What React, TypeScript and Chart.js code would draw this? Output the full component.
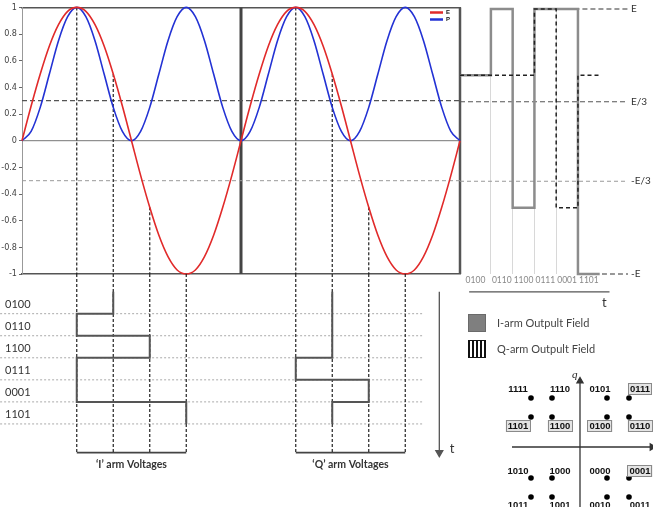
import React, { useEffect, useRef } from "react";
import { Chart, registerables } from "chart.js";
Chart.register(...registerables);

const W = 653;
const H = 507;

// ---------- data: field curves vs. phase (degrees) ----------
const phaseDeg = [0, 15, 30, 45, 60, 75, 90, 105, 120, 135, 150, 165, 180, 195, 210, 225, 240, 255, 270, 285, 300, 315, 330, 345, 360, 375, 390, 405, 420, 435, 450, 465, 480, 495, 510, 525, 540, 555, 570, 585, 600, 615, 630, 645, 660, 675, 690, 705, 720];
const fieldE = [0, 0.26, 0.5, 0.71, 0.87, 0.97, 1, 0.97, 0.87, 0.71, 0.5, 0.26, 0, -0.26, -0.5, -0.71, -0.87, -0.97, -1, -0.97, -0.87, -0.71, -0.5, -0.26, 0, 0.26, 0.5, 0.71, 0.87, 0.97, 1, 0.97, 0.87, 0.71, 0.5, 0.26, 0, -0.26, -0.5, -0.71, -0.87, -0.97, -1, -0.97, -0.87, -0.71, -0.5, -0.26, 0];
const fieldP = [0, 0.07, 0.25, 0.5, 0.75, 0.93, 1, 0.93, 0.75, 0.5, 0.25, 0.07, 0, 0.07, 0.25, 0.5, 0.75, 0.93, 1, 0.93, 0.75, 0.5, 0.25, 0.07, 0, 0.07, 0.25, 0.5, 0.75, 0.93, 1, 0.93, 0.75, 0.5, 0.25, 0.07, 0, 0.07, 0.25, 0.5, 0.75, 0.93, 1, 0.93, 0.75, 0.5, 0.25, 0.07, 0];
const thirdLevels = [0.3, -0.3];

// ---------- data: symbol sequence ----------
const symbols = ["0100", "0110", "1100", "0111", "0001", "1101"];
const iArmPhase = [150, 90, 210, 90, 90, 270];
const qArmPhase = [510, 510, 510, 450, 570, 510];
const iArmField = [0.5, 1, -0.5, 1, 1, -1];
const qArmField = [0.5, 0.5, 0.5, 1, -0.5, 0.5];
const iVoltMarks = [90, 150, 210, 270];
const qVoltMarks = [450, 510, 570, 630];
const markField = [1, 0.5, -0.5, -1];
const levelValues = [1, 0.3, -0.3, -1];
const levelLabels = ["E", "E/3", "-E/3", "-E"];

// ---------- data: constellation ----------
const constI = [-4.9, -2.8, 2.7, 4.9];
const constQ = [4.9, 3.0, -3.1, -5.0];
const constCodes = [
  ["1111", "1110", "0101", "0111"],
  ["1101", "1100", "0100", "0110"],
  ["1010", "1000", "0000", "0001"],
  ["1011", "1001", "0010", "0011"],
];

// ---------- styling constants ----------
const RED = "#e12a2a";
const BLUE = "#2332d4";
const NARROW = "'Liberation Sans Narrow','DejaVu Sans Condensed',sans-serif";
const SANS = "Lato, 'Open Sans', sans-serif";
const ARIAL = "'Liberation Sans', Arial, sans-serif";

function seg(data: any[], color: string, width: number, extra: any = {}) {
  return {
    data,
    borderColor: color,
    backgroundColor: color,
    borderWidth: width,
    pointRadius: 0,
    pointHoverRadius: 0,
    fill: false,
    tension: 0,
    clip: false,
    ...extra,
  };
}

type Deco = {
  x: number;
  y: number;
  px?: boolean;
  xAxis?: string;
  yAxis?: string;
  dx?: number;
  dy?: number;
  text?: string;
  font?: string;
  color?: string;
  align?: CanvasTextAlign;
  box?: boolean;
  rect?: { w: number; h: number; fill: any; stroke: string };
  hline?: { len: number; color: string; width: number };
};

function decor(items: Deco[]) {
  return {
    id: "decor",
    afterDraw(chart: any) {
      const ctx = chart.ctx as CanvasRenderingContext2D;
      for (const it of items) {
        const xs = chart.scales[it.xAxis || "x"];
        const ys = chart.scales[it.yAxis || "y"];
        const x = (it.px ? it.x : xs.getPixelForValue(it.x)) + (it.dx || 0);
        const y = (it.px ? it.y : ys.getPixelForValue(it.y)) + (it.dy || 0);
        ctx.save();
        if (it.rect) {
          ctx.fillStyle = it.rect.fill;
          ctx.fillRect(x, y, it.rect.w, it.rect.h);
          ctx.strokeStyle = it.rect.stroke;
          ctx.lineWidth = 1;
          ctx.strokeRect(x + 0.5, y + 0.5, it.rect.w - 1, it.rect.h - 1);
        }
        if (it.hline) {
          ctx.strokeStyle = it.hline.color;
          ctx.lineWidth = it.hline.width;
          ctx.beginPath();
          ctx.moveTo(x, y);
          ctx.lineTo(x + it.hline.len, y);
          ctx.stroke();
        }
        if (it.text) {
          ctx.font = it.font || `10px ${SANS}`;
          ctx.textAlign = it.align || "left";
          ctx.textBaseline = "middle";
          if (it.box) {
            const w = ctx.measureText(it.text).width;
            const left = it.align === "center" ? x - w / 2 : x;
            ctx.fillStyle = "#e4e4e4";
            ctx.fillRect(left - 2, y - 6, w + 4, 12);
            ctx.strokeStyle = "#8a8a8a";
            ctx.lineWidth = 1;
            ctx.strokeRect(Math.round(left - 2) + 0.5, Math.round(y - 6) + 0.5, Math.round(w + 3), 11);
          }
          ctx.fillStyle = it.color || "#222";
          ctx.fillText(it.text, x, y);
        }
        ctx.restore();
      }
    },
  };
}

function baseOptions(padding: any, scales: any) {
  return {
    responsive: false,
    maintainAspectRatio: false,
    animation: false,
    devicePixelRatio: 1,
    events: [],
    layout: { padding, autoPadding: false },
    scales,
    plugins: { legend: { display: false }, tooltip: { enabled: false } },
  };
}

export default function App() {
  const refA = useRef<HTMLCanvasElement>(null);
  const refB = useRef<HTMLCanvasElement>(null);
  const refC = useRef<HTMLCanvasElement>(null);
  const refD = useRef<HTMLCanvasElement>(null);

  useEffect(() => {
    const charts: Chart[] = [];
    const P0 = phaseDeg[0];
    const P1 = phaseDeg[phaseDeg.length - 1];

    // ===== Chart A: field curves =====
    const dsA: any[] = [
      seg(phaseDeg.map((x, i) => ({ x, y: fieldE[i] })), RED, 1.6, { cubicInterpolationMode: "monotone" }),
      seg(phaseDeg.map((x, i) => ({ x, y: fieldP[i] })), BLUE, 1.6, { cubicInterpolationMode: "monotone" }),
      ...[...iVoltMarks, ...qVoltMarks].map((p, k) =>
        seg([{ x: p, y: markField[k % 4] }, { x: p, y: -1 }], "#222", 1.2, { borderDash: [3, 2] })
      ),
      seg([{ x: P0, y: thirdLevels[0] }, { x: P1, y: thirdLevels[0] }], "#555", 1.2, { borderDash: [5, 3] }),
      seg([{ x: P0, y: thirdLevels[1] }, { x: P1, y: thirdLevels[1] }], "#999", 1, { borderDash: [4, 3] }),
      seg([{ x: P0, y: 0 }, { x: P1, y: 0 }], "#777", 1),
      seg([{ x: (P0 + P1) / 2, y: -1 }, { x: (P0 + P1) / 2, y: 1 }], "#444", 3),
      seg([{ x: P1, y: -1 }, { x: P1, y: 1 }], "#555", 2.5),
    ];
    const hiddenX = (pos: string) => ({
      type: "linear",
      position: pos,
      min: P0,
      max: P1,
      ticks: { display: false },
      grid: { display: false },
      border: { display: true, color: "#555", width: 1.5 },
      afterFit: (s: any) => {
        s.height = 0;
      },
    });
    charts.push(
      new Chart(refA.current!, {
        type: "line",
        data: { datasets: dsA },
        options: baseOptions({ left: 0, top: 7, right: W - 460, bottom: H - 274 }, {
          x: hiddenX("bottom"),
          xTop: hiddenX("top"),
          y: {
            type: "linear",
            min: -1,
            max: 1,
            ticks: {
              stepSize: 0.2,
              color: "#444",
              font: { family: NARROW, size: 9 },
              padding: 2,
              callback: (v: any) => String(Math.round(v * 10) / 10),
            },
            grid: { drawOnChartArea: false, drawTicks: true, tickLength: 3, color: "#666" },
            border: { display: true, color: "#999", width: 1 },
            afterFit: (s: any) => {
              s.width = 22;
            },
          },
        }) as any,
        plugins: [
          decor([
            { px: true, x: 430, y: 12.5, hline: { len: 13, color: RED, width: 2.5 } },
            { px: true, x: 430, y: 19.5, hline: { len: 13, color: BLUE, width: 2.5 } },
            { px: true, x: 446, y: 12.5, text: "E", font: `bold 6px ${ARIAL}`, color: "#111" },
            { px: true, x: 446, y: 19.5, text: "P", font: `bold 6px ${ARIAL}`, color: "#111" },
          ]),
        ],
      } as any)
    );

    // ===== Chart B: I / Q arm voltages vs. time =====
    const T_TOP = -0.8;
    const T_BRACKET = 7.3;
    const ROW_X0 = -36;
    const ROW_X1 = 660;
    const TIME_X = 686;
    const dsB: any[] = [
      seg(iArmPhase.flatMap((p, k) => [{ x: p, y: k }, { x: p, y: k + 1 }]), "#555", 2),
      seg(qArmPhase.flatMap((p, k) => [{ x: p, y: k }, { x: p, y: k + 1 }]), "#555", 2),
      ...[...iVoltMarks, ...qVoltMarks].map((p) =>
        seg([{ x: p, y: T_TOP }, { x: p, y: T_BRACKET }], "#222", 1.2, { borderDash: [3, 2] })
      ),
      seg([{ x: iVoltMarks[0], y: T_BRACKET }, { x: iVoltMarks[3], y: T_BRACKET }], "#444", 1.6),
      seg([{ x: qVoltMarks[0], y: T_BRACKET }, { x: qVoltMarks[3], y: T_BRACKET }], "#444", 1.6),
      ...symbols.map((_, k) =>
        seg([{ x: ROW_X0, y: k + 1 }, { x: ROW_X1, y: k + 1 }], "#aaa", 1, { borderDash: [2, 2] })
      ),
      seg([{ x: TIME_X, y: 0 }, { x: TIME_X, y: T_BRACKET }], "#555", 1.3, {
        pointRadius: [0, 4],
        pointStyle: "triangle",
        rotation: 180,
        pointBackgroundColor: "#555",
        pointBorderColor: "#555",
      }),
    ];
    charts.push(
      new Chart(refB.current!, {
        type: "line",
        data: { datasets: dsB },
        options: baseOptions({ left: 22, top: 274, right: W - 460, bottom: 50 }, {
          x: { type: "linear", min: P0, max: P1, display: false },
          y: { type: "linear", min: T_TOP, max: 7.5, reverse: true, display: false },
        }) as any,
        plugins: [
          decor([
            ...symbols.map((s, k) => ({
              x: P0,
              y: k + 0.5,
              dx: -17,
              dy: 1.5,
              text: s,
              font: `11px ${SANS}`,
              color: "#333",
            })),
            { x: (iVoltMarks[0] + iVoltMarks[3]) / 2, y: 7.85, text: "\u2018I\u2019 arm Voltages", font: `bold 10.5px ${SANS}`, align: "center", color: "#333" },
            { x: (qVoltMarks[0] + qVoltMarks[3]) / 2, y: 7.85, text: "\u2018Q\u2019 arm Voltages", font: `bold 10.5px ${SANS}`, align: "center", color: "#333" },
            { x: TIME_X + 17, y: 7.15, text: "t", font: `13px ${SANS}`, color: "#333" },
          ]),
        ],
      } as any)
    );

    // ===== Chart C: output field steps =====
    const X_MIN = -0.42;
    const X_MAX = 7.3;
    const stepPts = (vals: number[]) =>
      vals.flatMap((v, k) => [{ x: k === 0 ? X_MIN : k, y: v }, { x: k + 1, y: v }]);
    const ARROW_Y = -1.135;
    const dsC: any[] = [
      seg(stepPts(qArmField), "#222", 1.5, { borderDash: [4, 3] }),
      seg(stepPts(iArmField), "#8c8c8c", 2.5),
      seg([{ x: X_MIN, y: thirdLevels[0] }, { x: X_MAX, y: thirdLevels[0] }], "#555", 1.2, { borderDash: [5, 3] }),
      seg([{ x: X_MIN, y: thirdLevels[1] }, { x: X_MAX, y: thirdLevels[1] }], "#999", 1, { borderDash: [4, 3] }),
      seg([{ x: 3, y: 1 }, { x: X_MAX, y: 1 }], "#333", 1.2, { borderDash: [5, 3] }),
      seg([{ x: 5, y: -1 }, { x: X_MAX, y: -1 }], "#333", 1.2, { borderDash: [5, 3] }),
      seg([{ x: 0, y: ARROW_Y }, { x: 6.45, y: ARROW_Y }], "#555", 1.2, {
        pointRadius: [0, 3.5],
        pointStyle: "triangle",
        rotation: 90,
        pointBackgroundColor: "#555",
        pointBorderColor: "#555",
      }),
    ].map((d) => ({ ...d, xAxisID: "x", yAxisID: "y" }));
    charts.push(
      new Chart(refC.current!, {
        type: "line",
        data: { datasets: dsC },
        options: baseOptions({ left: 460, top: 7, right: 0, bottom: H - 274 - 12 }, {
          x: {
            type: "linear",
            position: "bottom",
            min: X_MIN,
            max: X_MAX,
            afterBuildTicks: (s: any) => {
              s.ticks = symbols.slice(1).map((_, i) => ({ value: i + 1 }));
            },
            ticks: { display: false },
            grid: { color: "#d8d8d8", drawTicks: false },
            border: { display: false },
            afterFit: (s: any) => {
              s.height = 0;
            },
          },
          xl: {
            type: "linear",
            position: "bottom",
            min: X_MIN,
            max: X_MAX,
            afterBuildTicks: (s: any) => {
              s.ticks = symbols.map((_, i) => ({ value: i === 0 ? (X_MIN + 1) / 2 : i + 0.5 }));
            },
            ticks: {
              autoSkip: false,
              maxRotation: 0,
              padding: 1,
              color: "#888",
              font: { family: SANS, size: 8.5 },
              callback: (_v: any, i: number) => symbols[i],
            },
            grid: { display: false, drawTicks: false },
            border: { display: false },
            afterFit: (s: any) => {
              s.height = 12;
            },
          },
          y: {
            type: "linear",
            position: "right",
            min: -1,
            max: 1,
            afterBuildTicks: (s: any) => {
              s.ticks = levelValues.map((v) => ({ value: v }));
            },
            ticks: {
              autoSkip: false,
              padding: 3,
              color: "#333",
              font: { family: SANS, size: 10 },
              callback: (_v: any, i: number) => levelLabels[i],
            },
            grid: { display: false, drawTicks: false },
            border: { display: false },
            afterFit: (s: any) => {
              s.width = 25;
            },
          },
        }) as any,
        plugins: [
          decor([{ x: 6.1, y: -1.22, text: "t", font: `13px ${SANS}`, color: "#333" }]),
        ],
      } as any)
    );

    // ===== Chart D: constellation + legend =====
    const pc = document.createElement("canvas");
    pc.width = 4;
    pc.height = 4;
    const pctx = pc.getContext("2d")!;
    pctx.fillStyle = "#fff";
    pctx.fillRect(0, 0, 4, 4);
    pctx.fillStyle = "#111";
    pctx.fillRect(0, 0, 2, 4);
    const stripes = refD.current!.getContext("2d")!.createPattern(pc, "repeat");

    const pts: any[] = [];
    constQ.forEach((q) => constI.forEach((i) => pts.push({ x: i, y: q })));
    const colDx = [-13, 8, -7, 11];
    const rowDy = [-9, 9, -7, 8];
    const labels: Deco[] = [];
    constCodes.forEach((row, r) =>
      row.forEach((code, c) =>
        labels.push({
          x: constI[c],
          y: constQ[r],
          dx: colDx[c],
          dy: rowDy[r],
          text: code,
          font: `bold 9.5px ${ARIAL}`,
          align: "center",
          color: "#111",
          box: symbols.includes(code),
        })
      )
    );
    const dsD: any[] = [
      { data: pts, showLine: false, pointRadius: 2.8, pointBackgroundColor: "#000", pointBorderColor: "#000", borderWidth: 0 },
      seg([{ x: -6.8, y: 0 }, { x: 7.2, y: 0 }], "#333", 1.3, {
        pointRadius: [0, 3.5],
        pointStyle: "triangle",
        rotation: 90,
        pointBackgroundColor: "#333",
        pointBorderColor: "#333",
      }),
      seg([{ x: 0, y: -6.5 }, { x: 0, y: 6.6 }], "#333", 1.3, {
        pointRadius: [0, 3.5],
        pointStyle: "triangle",
        rotation: 0,
        pointBackgroundColor: "#333",
        pointBorderColor: "#333",
      }),
    ];
    charts.push(
      new Chart(refD.current!, {
        type: "line",
        data: { datasets: dsD },
        options: baseOptions({ left: 460, top: 307, right: 0, bottom: 0 }, {
          x: { type: "linear", min: -12, max: 7.3, display: false },
          y: { type: "linear", min: -6, max: 14, display: false },
        }) as any,
        plugins: [
          decor([
            ...labels,
            { x: -0.8, y: 7.2, text: "q", font: `italic 11px 'Liberation Serif', serif`, color: "#222" },
            { px: true, x: 468, y: 314, rect: { w: 18, h: 18, fill: "#7f7f7f", stroke: "#6a6a6a" } },
            { px: true, x: 497, y: 323, text: "I-arm Outpult Field", font: `11px ${SANS}`, color: "#444" },
            { px: true, x: 468, y: 340, rect: { w: 18, h: 18, fill: stripes, stroke: "#111" } },
            { px: true, x: 497, y: 349, text: "Q-arm Outpult Field", font: `11px ${SANS}`, color: "#444" },
          ]),
        ],
      } as any)
    );

    return () => charts.forEach((c) => c.destroy());
  }, []);

  const cv = { position: "absolute" as const, left: 0, top: 0, width: W, height: H };
  return (
    <div style={{ position: "fixed", left: 0, top: 0, width: W, height: H, background: "#fff", overflow: "hidden" }}>
      <canvas ref={refA} width={W} height={H} style={cv} />
      <canvas ref={refB} width={W} height={H} style={cv} />
      <canvas ref={refC} width={W} height={H} style={cv} />
      <canvas ref={refD} width={W} height={H} style={cv} />
    </div>
  );
}
